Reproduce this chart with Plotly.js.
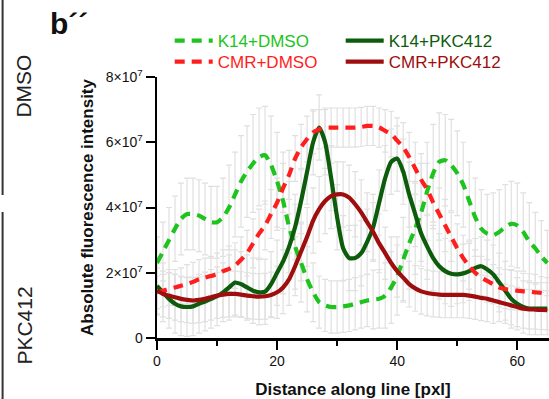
<!DOCTYPE html>
<html>
<head>
<meta charset="utf-8">
<script src="https://cdn.plot.ly/plotly-3.0.1.min.js"></script>
<style>html,body{margin:0;padding:0;background:#fff;}#chart{width:549px;height:399px;}</style>
</head>
<body>
<div id="chart"></div>
<script>
// Distance along line [pxl]
const distance = [0,1,2,3,4,5,6,7,8,9,10,11,12,13,14,15,16,17,18,19,20,21,22,23,24,25,26,27,28,29,30,31,32,33,34,35,36,37,38,39,40,41,42,43,44,45,46,47,48,49,50,51,52,53,54,55,56,57,58,59,60,61,62,63,64,65];

// Values in units of 1e7
const k14Dmso = [2.3,2.65,3.0,3.35,3.65,3.8,3.8,3.75,3.65,3.55,3.55,3.7,4.0,4.4,4.8,5.1,5.35,5.55,5.6,5.3,4.8,4.2,3.4,2.8,2.3,1.8,1.4,1.1,1.0,0.95,0.95,0.97,1.0,1.05,1.1,1.15,1.18,1.2,1.3,1.55,1.9,2.4,2.9,3.35,3.85,4.5,5.05,5.4,5.45,5.3,5.05,4.7,4.2,3.7,3.35,3.2,3.15,3.25,3.4,3.5,3.45,3.25,2.95,2.75,2.5,2.3];
const cmrDmso = [1.4,1.45,1.5,1.55,1.6,1.65,1.72,1.8,1.85,1.9,1.95,2.05,2.12,2.22,2.4,2.6,2.9,3.2,3.45,3.8,4.15,4.6,5.0,5.5,5.85,6.1,6.3,6.4,6.45,6.45,6.45,6.45,6.45,6.45,6.47,6.5,6.5,6.45,6.35,6.25,6.05,5.85,5.55,5.2,4.85,4.55,4.15,3.8,3.45,3.1,2.75,2.45,2.2,2.0,1.85,1.75,1.65,1.55,1.5,1.47,1.45,1.43,1.42,1.4,1.38,1.35];
const k14Pkc = [1.6,1.4,1.2,1.05,0.97,0.95,0.97,1.05,1.12,1.2,1.28,1.4,1.55,1.7,1.65,1.55,1.45,1.4,1.42,1.65,2.0,2.35,2.8,3.4,4.2,5.1,6.0,6.45,6.0,4.9,3.7,2.75,2.45,2.45,2.6,2.95,3.4,4.15,4.9,5.4,5.5,5.1,4.4,3.8,3.2,2.8,2.45,2.2,2.05,1.97,1.95,1.98,2.05,2.15,2.2,2.1,1.95,1.7,1.45,1.2,1.05,0.95,0.9,0.9,0.9,0.9];
const cmrPkc = [1.45,1.35,1.3,1.25,1.2,1.17,1.15,1.17,1.2,1.25,1.3,1.33,1.35,1.35,1.33,1.3,1.28,1.27,1.28,1.32,1.4,1.55,1.8,2.2,2.65,3.1,3.6,3.95,4.2,4.35,4.4,4.4,4.3,4.1,3.85,3.55,3.25,2.9,2.6,2.3,2.05,1.85,1.65,1.52,1.43,1.38,1.35,1.33,1.32,1.32,1.32,1.32,1.3,1.27,1.23,1.2,1.15,1.1,1.05,1.0,0.95,0.9,0.88,0.87,0.86,0.85];

// Error (SD) estimates, units of 1e7
const k14DmsoErr = [0.8,0.9,1.0,1.0,1.1,1.1,1.1,1.1,1.1,1.1,1.1,1.2,1.3,1.3,1.4,1.4,1.5,1.5,1.5,1.5,1.5,1.5,1.4,1.3,1.2,1.0,0.9,0.8,0.8,0.8,0.8,0.8,0.8,0.8,0.8,0.8,0.9,0.9,1.0,1.1,1.2,1.3,1.4,1.4,1.5,1.5,1.5,1.5,1.4,1.4,1.3,1.3,1.2,1.2,1.2,1.2,1.3,1.3,1.3,1.3,1.3,1.2,1.2,1.1,1.1,1.0];
const cmrDmsoErr = [0.5,0.5,0.5,0.55,0.55,0.6,0.6,0.6,0.6,0.6,0.65,0.65,0.7,0.7,0.7,0.7,0.75,0.75,0.75,0.75,0.75,0.75,0.75,0.7,0.7,0.7,0.65,0.6,0.6,0.6,0.6,0.6,0.6,0.6,0.6,0.6,0.6,0.6,0.65,0.7,0.7,0.75,0.75,0.8,0.8,0.8,0.8,0.8,0.8,0.75,0.75,0.7,0.7,0.7,0.65,0.65,0.6,0.6,0.6,0.6,0.6,0.55,0.55,0.55,0.5,0.5];
const k14PkcErr = [0.9,0.9,0.9,0.9,0.9,0.9,0.9,0.9,0.9,0.9,0.9,0.9,1.0,1.0,1.0,1.0,1.0,1.0,1.0,1.0,1.0,1.0,1.0,1.0,1.0,1.0,1.0,1.0,1.0,1.0,1.0,1.0,1.0,1.0,1.0,1.0,1.0,1.0,1.0,1.0,1.0,1.0,1.0,1.0,1.0,1.0,1.0,1.0,1.0,1.0,0.9,0.9,0.9,0.9,0.9,0.9,0.9,0.9,0.9,0.9,0.8,0.8,0.8,0.8,0.8,0.8];
const cmrPkcErr = [0.7,0.7,0.7,0.7,0.7,0.7,0.7,0.7,0.7,0.7,0.7,0.7,0.7,0.7,0.7,0.7,0.7,0.7,0.7,0.7,0.8,0.8,0.8,0.9,0.9,0.9,1.0,1.0,1.0,1.0,1.0,1.0,1.0,1.0,1.0,0.9,0.9,0.9,0.8,0.8,0.8,0.7,0.7,0.7,0.7,0.7,0.7,0.7,0.7,0.7,0.7,0.7,0.7,0.7,0.7,0.7,0.7,0.6,0.6,0.6,0.6,0.6,0.6,0.6,0.6,0.6];

const seriesNames = ['K14+DMSO','K14+PKC412','CMR+DMSO','CMR+PKC412'];
const seriesValues = [k14Dmso, k14Pkc, cmrDmso, cmrPkc];
const seriesErrors = [k14DmsoErr, k14PkcErr, cmrDmsoErr, cmrPkcErr];
const seriesColors = ['#1ec31e','#0c5c0c','#ff1e1e','#9e0e0e'];
const seriesDash = ['10px,7px','solid','10px,7px','solid'];
const seriesLegend = ['legend','legend','legend2','legend2'];

const yTickVals = [0, 2e7, 4e7, 6e7, 8e7];
const yTickText = ['0','2×10<sup>7</sup>','4×10<sup>7</sup>','6×10<sup>7</sup>','8×10<sup>7</sup>'];
const xTickVals = [0, 20, 40, 60];

const SCALE = 1e7;
const scaled = arr => arr.map(v => v * SCALE);

const traces = [];
// error bars first (underneath all lines)
seriesValues.forEach((vals, i) => {
  traces.push({
    x: distance, y: scaled(vals), type: 'scatter', mode: 'markers',
    marker: {size: 1, opacity: 0}, showlegend: false, hoverinfo: 'skip',
    error_y: {type: 'data', array: scaled(seriesErrors[i]), visible: true,
              color: '#e0e0e0', thickness: 1.2, width: 3}
  });
});
seriesValues.forEach((vals, i) => {
  traces.push({
    x: distance, y: scaled(vals), type: 'scatter', mode: 'lines',
    legend: seriesLegend[i],
    name: '<span style="color:' + seriesColors[i] + '">' + seriesNames[i] + '</span>',
    line: {color: seriesColors[i], width: 4.2, dash: seriesDash[i], shape: 'spline', smoothing: 0.6}
  });
});

const FONT = 'Liberation Sans, Arial, Helvetica, sans-serif';
const W = 549, H = 399, L = 157.3, T = 77, B = 61;
const pw = W - L, ph = H - T - B;
const px = v => (v - L) / pw;
const py = v => (H - B - v) / ph;

const legendStyle = top => ({
  orientation: 'h', x: px(170), xanchor: 'left', y: py(top), yanchor: 'top',
  font: {family: FONT, size: 17}, entrywidth: 118, entrywidthmode: 'pixels',
  bgcolor: 'rgba(0,0,0,0)', itemwidth: 38
});

const layout = {
  width: W, height: H,
  margin: {l: L, r: 0, t: T, b: B, pad: 0},
  paper_bgcolor: '#fff', plot_bgcolor: '#fff',
  font: {family: FONT, size: 14, color: '#111'},
  showlegend: true,
  legend: legendStyle(23),
  legend2: legendStyle(44),
  xaxis: {range: [0, (W - L) / 6], showgrid: false, zeroline: false,
          showline: true, linecolor: '#000', linewidth: 2.5,
          ticks: 'outside', ticklen: 9, tickwidth: 2, tickcolor: '#000',
          tickvals: xTickVals, tickfont: {family: FONT, size: 14, color: '#111'},
          minor: {tickvals: [10, 30, 50], ticks: 'outside', ticklen: 5, tickwidth: 2, tickcolor: '#000'},
          title: {text: '<b>Distance along line [pxl]</b>', font: {family: FONT, size: 17, color: '#111'}, standoff: 17}},
  yaxis: {range: [0, 8e7], showgrid: false, zeroline: false,
          showline: true, linecolor: '#000', linewidth: 2.5,
          ticks: 'outside', ticklen: 9, tickwidth: 2, tickcolor: '#000',
          tickvals: yTickVals, ticktext: yTickText, tickfont: {family: FONT, size: 14, color: '#111'},
          title: {text: '<b>Absolute fluorescence intensity</b>', font: {family: FONT, size: 17, color: '#111'}, standoff: 8}},
  shapes: [
    {type: 'line', xref: 'paper', yref: 'paper', x0: px(3), x1: px(3), y0: py(0), y1: py(195), line: {color: '#333', width: 2}},
    {type: 'line', xref: 'paper', yref: 'paper', x0: px(3), x1: px(3), y0: py(212), y1: py(399), line: {color: '#333', width: 2}}
  ],
  annotations: [
    {text: '<b>b´´</b>', xref: 'paper', yref: 'paper', x: px(48), y: py(5), xanchor: 'left', yanchor: 'top',
     showarrow: false, font: {family: FONT, size: 30, color: '#111'}},
    {text: 'DMSO', xref: 'paper', yref: 'paper', x: px(24), y: py(86), xanchor: 'center', yanchor: 'middle',
     textangle: -90, showarrow: false, font: {family: FONT, size: 21, color: '#222'}},
    {text: 'PKC412', xref: 'paper', yref: 'paper', x: px(24), y: py(326), xanchor: 'center', yanchor: 'middle',
     textangle: -90, showarrow: false, font: {family: FONT, size: 21, color: '#222'}}
  ]
};

Plotly.newPlot('chart', traces, layout, {displayModeBar: false, staticPlot: true});
</script>
</body>
</html>
